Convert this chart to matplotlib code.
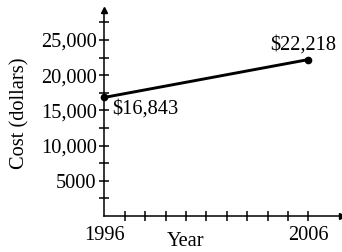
import matplotlib
matplotlib.use("Agg")
import matplotlib.pyplot as plt

years = [1996, 2006]
costs = [16843, 22218]
point_labels = ["$16,843", "$22,218"]
x_tick_values = [1996, 1997, 1998, 1999, 2000, 2001, 2002, 2003, 2004, 2005, 2006]
x_tick_labels = ["1996", "", "", "", "", "", "", "", "", "", "2006"]
y_tick_values = [5000, 10000, 15000, 20000, 25000]
y_tick_labels = ["5000", "10,000", "15,000", "20,000", "25,000"]
y_minor_values = [2500, 7500, 12500, 17500, 22500, 27500]
x_label = "Year"
y_label = "Cost (dollars)"

plt.rcParams['font.family'] = ['Liberation Serif', 'DejaVu Serif']
FS = 14.7

fig = plt.figure(figsize=(3.42, 2.52), dpi=100)
ax = fig.add_axes([104.3/342, 36/252, (341.5-104.3)/342, (216-10)/252])
ax.set_xlim(1996, 1996 + 237.2/20.4)
ax.set_ylim(0, 206/0.00704)

for s in ['top', 'right']:
    ax.spines[s].set_visible(False)
for s in ['left', 'bottom']:
    ax.spines[s].set_linewidth(1.1)

ax.set_xticks(x_tick_values)
ax.set_xticklabels(x_tick_labels, fontsize=FS)
ax.set_yticks(y_tick_values)
ax.set_yticklabels(y_tick_labels, fontsize=FS)
ax.set_yticks(y_minor_values, minor=True)
ax.tick_params(axis='both', which='both', direction='inout', length=7, width=1.1, color='black')
ax.tick_params(axis='x', pad=3.5)
ax.tick_params(axis='y', pad=2)
ax.xaxis.get_major_ticks()[0].tick1line.set_visible(False)

# arrowheads
ax.plot([0], [1], marker='^', color='black', markersize=5, transform=ax.transAxes, clip_on=False)
ax.plot([1], [0], marker='>', color='black', markersize=5, transform=ax.transAxes, clip_on=False)

ax.plot(years, costs, color='black', lw=2.1, marker='o', markersize=4.5, clip_on=False, zorder=5)

ax.annotate(point_labels[0], (years[0], costs[0]), xytext=(7.7, -16.6), textcoords='offset pixels',
            ha='left', va='baseline', fontsize=FS)
ax.annotate(point_labels[1], (years[1], costs[1]), xytext=(-5, 9.6), textcoords='offset pixels',
            ha='center', va='baseline', fontsize=FS)

fig.text(186/342, 0.5/252, x_label, ha='center', va='bottom', fontsize=FS)
fig.text(20/342, 1 - 113.5/252, y_label, ha='center', va='center', rotation=90, fontsize=FS)

fig.savefig("out.png", dpi=100)
